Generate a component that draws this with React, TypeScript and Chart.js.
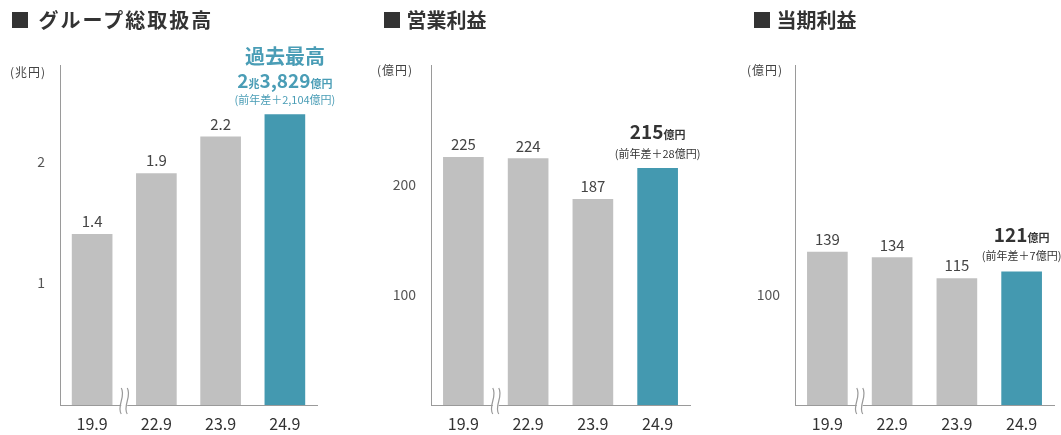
import React, { useEffect, useRef } from "react";
import { Chart, registerables } from "chart.js";
Chart.register(...registerables);

// ---- data ----
const categories = ["19.9", "22.9", "23.9", "24.9"];
const grossValues = [1.4, 1.9, 2.2, 2.3829];
const operatingValues = [225, 224, 187, 215];
const netValues = [139, 134, 115, 121];
const grossValueLabels = ["1.4", "1.9", "2.2"];
const operatingValueLabels = ["225", "224", "187"];
const netValueLabels = ["139", "134", "115"];
const grossTicks = [1, 2];
const operatingTicks = [100, 200];
const netTicks = [100];
const titles = ["グループ総取扱高", "営業利益", "当期利益"];
const units = ["(兆円)", "(億円)", "(億円)"];
const grossHeadline = "過去最高";
const grossAmount = [["2", "b"], ["兆", "s"], ["3,829", "b"], ["億円", "s"]];
const grossDiff = "(前年差＋2,104億円)";
const operatingAmount = [["215", "b"], ["億円", "s"]];
const operatingDiff = "(前年差＋28億円)";
const netAmount = [["121", "b"], ["億円", "s"]];
const netDiff = "(前年差＋7億円)";

const FONT = "'Noto Sans CJK JP', 'Noto Sans', sans-serif";
const GRAY = "#c0c0c0";
const TEAL = "#4499b0";
const TEAL_TEXT = "#4a9db6";
const DARK = "#333333";

type Seg = [string, string];

function drawSegs(ctx: CanvasRenderingContext2D, segs: Seg[], cx: number, baseline: number, color: string, big: number, small: number, weight: string) {
  const fonts = segs.map(([, k]) => `${weight} ${k === "b" ? big : small}px ${FONT}`);
  let total = 0;
  const widths = segs.map(([t], i) => {
    ctx.font = fonts[i];
    const w = ctx.measureText(t).width;
    total += w;
    return w;
  });
  let x = cx - total / 2;
  ctx.fillStyle = color;
  ctx.textAlign = "left";
  ctx.textBaseline = "alphabetic";
  segs.forEach(([t], i) => {
    ctx.font = fonts[i];
    ctx.fillText(t, x, baseline);
    x += widths[i];
  });
}

type Annot = (ctx: CanvasRenderingContext2D, cx: number, top: number) => void;

function makeChart(
  canvas: HTMLCanvasElement,
  values: number[],
  valueLabels: string[],
  tickVals: number[],
  yMax: number,
  padLeft: number,
  padRight: number,
  annot: Annot
) {
  const labelPlugin = {
    id: "labels",
    afterDatasetsDraw(chart: any) {
      const ctx: CanvasRenderingContext2D = chart.ctx;
      const meta = chart.getDatasetMeta(0);
      const xs = chart.scales.x;
      ctx.save();
      // value labels
      ctx.font = `400 15px ${FONT}`;
      ctx.fillStyle = "#444";
      ctx.textAlign = "center";
      ctx.textBaseline = "alphabetic";
      valueLabels.forEach((t, i) => {
        const el = meta.data[i];
        ctx.fillText(t, el.x, el.y - 7);
      });
      const last = meta.data[values.length - 1];
      annot(ctx, last.x, last.y);
      // axis break
      const bx = (xs.getPixelForTick(0) + xs.getPixelForTick(1)) / 2;
      const by = chart.chartArea.bottom;
      ctx.fillStyle = "#ffffff";
      ctx.fillRect(bx - 3, by - 3, 6, 6);
      ctx.strokeStyle = "#999";
      ctx.lineWidth = 1.2;
      [-3, 3].forEach((o) => {
        ctx.beginPath();
        ctx.moveTo(bx + o, by - 17);
        ctx.bezierCurveTo(bx + o + 5, by - 9, bx + o - 5, by + 1, bx + o, by + 9);
        ctx.stroke();
      });
      ctx.restore();
    },
  };

  return new Chart(canvas, {
    type: "bar",
    data: {
      labels: categories,
      datasets: [
        {
          data: values,
          backgroundColor: values.map((_, i) => (i === values.length - 1 ? TEAL : GRAY)),
          barThickness: 40,
          borderWidth: 0,
        },
      ],
    },
    options: {
      responsive: false,
      animation: false,
      events: [],
      layout: { padding: { left: padLeft, right: padRight, top: 65, bottom: 0 } },
      plugins: { legend: { display: false }, tooltip: { enabled: false } },
      scales: {
        x: {
          grid: { display: false, drawTicks: false },
          border: { display: true, color: "#9a9a9a", width: 1 },
          ticks: { color: DARK, font: { family: FONT, size: 16 }, padding: 9 },
          afterFit: (s: any) => {
            s.height = 30;
          },
        },
        y: {
          min: 0,
          max: yMax,
          grid: { display: false, drawTicks: false },
          border: { display: true, color: "#9a9a9a", width: 1 },
          ticks: { color: "#555", font: { family: FONT, size: 14 }, padding: 15 },
          afterBuildTicks: (s: any) => {
            s.ticks = tickVals.map((v) => ({ value: v }));
          },
          afterFit: (s: any) => {
            s.width = 40;
          },
        },
      },
    },
    plugins: [labelPlugin],
  } as any);
}

export default function App() {
  const r1 = useRef<HTMLCanvasElement>(null);
  const r2 = useRef<HTMLCanvasElement>(null);
  const r3 = useRef<HTMLCanvasElement>(null);

  useEffect(() => {
    document.body.style.margin = "0";
    const c1 = makeChart(r1.current!, grossValues, grossValueLabels, grossTicks, 2.79, 20, 744, (ctx, cx, top) => {
      ctx.font = `700 20px ${FONT}`;
      ctx.fillStyle = TEAL_TEXT;
      ctx.textAlign = "center";
      ctx.textBaseline = "alphabetic";
      ctx.fillText(grossHeadline, cx, top - 51);
      drawSegs(ctx, grossAmount as Seg[], cx, top - 27, TEAL_TEXT, 19, 11, "700");
      ctx.font = `400 11px ${FONT}`;
      ctx.fillStyle = TEAL_TEXT;
      ctx.textAlign = "center";
      ctx.fillText(grossDiff, cx, top - 11);
    });
    const c2 = makeChart(r2.current!, operatingValues, operatingValueLabels, operatingTicks, 309, 391, 371, (ctx, cx, top) => {
      drawSegs(ctx, operatingAmount as Seg[], cx, top - 29, DARK, 19, 11, "700");
      ctx.font = `400 11px ${FONT}`;
      ctx.fillStyle = DARK;
      ctx.textAlign = "center";
      ctx.fillText(operatingDiff, cx, top - 10);
    });
    const c3 = makeChart(r3.current!, netValues, netValueLabels, netTicks, 309, 755, 7, (ctx, cx, top) => {
      drawSegs(ctx, netAmount as Seg[], cx, top - 30, DARK, 19, 11, "700");
      ctx.font = `400 11px ${FONT}`;
      ctx.fillStyle = DARK;
      ctx.textAlign = "center";
      ctx.fillText(netDiff, cx, top - 12);
    });
    return () => {
      c1.destroy();
      c2.destroy();
      c3.destroy();
    };
  }, []);

  const canvasStyle: React.CSSProperties = { position: "absolute", left: 0, top: 0 };
  const titleStyle = (left: number, spacing: number): React.CSSProperties => ({
    position: "absolute",
    left,
    top: 9,
    fontFamily: FONT,
    fontWeight: 700,
    fontSize: 20,
    lineHeight: "22px",
    color: DARK,
    letterSpacing: spacing,
    whiteSpace: "nowrap",
  });
  const unitStyle = (left: number, top: number): React.CSSProperties => ({
    position: "absolute",
    left,
    top,
    fontFamily: FONT,
    fontSize: 12,
    lineHeight: "14px",
    color: "#444",
    whiteSpace: "nowrap",
    letterSpacing: 1,
  });

  return (
    <div style={{ position: "relative", width: 1061, height: 435, background: "#fff", overflow: "hidden" }}>
      <canvas ref={r1} width={1061} height={435} style={canvasStyle} />
      <canvas ref={r2} width={1061} height={435} style={canvasStyle} />
      <canvas ref={r3} width={1061} height={435} style={canvasStyle} />
      <div style={titleStyle(10, 2)}>■ {titles[0]}</div>
      <div style={titleStyle(382, 0)}>■ {titles[1]}</div>
      <div style={titleStyle(752, 0)}>■ {titles[2]}</div>
      <div style={unitStyle(10, 65)}>{units[0]}</div>
      <div style={unitStyle(377, 63)}>{units[1]}</div>
      <div style={unitStyle(747, 63)}>{units[2]}</div>
    </div>
  );
}
